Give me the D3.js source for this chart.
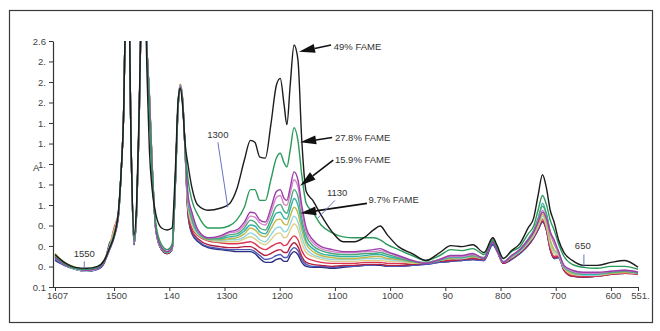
<!DOCTYPE html>
<html>
<head>
<meta charset="utf-8">
<script src="https://cdn.jsdelivr.net/npm/d3@7"></script>
<style>
  body { margin: 0; background: #fff; }
  svg { display: block; font-family: "Liberation Sans", Arial, sans-serif; }
</style>
</head>
<body>
<svg id="chart" width="660" height="331"></svg>
<script>
// wavenumber grid (cm-1), shared by all spectra
const wavenumbers = [
  1607, 1590, 1570, 1550, 1530, 1518, 1508, 1500, 1492, 1487,
  1483, 1479, 1474, 1469, 1464, 1459, 1455, 1450, 1445, 1440,
  1436, 1431, 1424, 1414, 1404, 1395, 1389, 1384, 1380, 1376,
  1371, 1366, 1359, 1348, 1330, 1308, 1292, 1278, 1264, 1253,
  1245, 1236, 1226, 1216, 1206, 1199, 1192, 1187, 1181, 1174,
  1167, 1160, 1152, 1140, 1125, 1105, 1085, 1065, 1045, 1030,
  1018, 1005, 985, 960, 935, 910, 890, 870, 850, 830,
  814, 806, 795, 780, 765, 750, 740, 732, 724, 717,
  710, 703, 695, 685, 670, 650, 625, 600, 575, 551
];

// absorbance (values above 2.6 are cut by the frame)
const fame49 = [
  0.43, 0.35, 0.30, 0.29, 0.31, 0.37, 0.50, 0.62, 0.88, 1.29,
  1.80, 2.90, 3.20, 1.49, 0.63, 0.98, 1.80, 3.00, 3.20, 2.20,
  1.49, 1.09, 0.83, 0.70, 0.68, 0.70, 1.29, 2.00, 2.12, 1.95,
  1.54, 1.34, 1.11, 0.93, 0.88, 0.90, 0.94, 1.09, 1.39, 1.59,
  1.57, 1.42, 1.41, 1.75, 2.15, 2.22, 1.95, 1.75, 2.15, 2.56,
  2.41, 1.59, 1.07, 0.98, 0.83, 0.66, 0.56, 0.56, 0.61, 0.68,
  0.72, 0.63, 0.51, 0.44, 0.37, 0.45, 0.52, 0.51, 0.53, 0.45,
  0.60, 0.52, 0.39, 0.47, 0.54, 0.70, 0.80, 1.03, 1.24, 1.11,
  0.88, 0.76, 0.58, 0.45, 0.37, 0.32, 0.32, 0.35, 0.37, 0.30
];
const fame278 = [
  0.42, 0.34, 0.29, 0.28, 0.30, 0.36, 0.49, 0.62, 0.86, 1.29,
  1.80, 2.90, 3.20, 1.49, 0.58, 0.93, 1.75, 3.00, 3.20, 2.41,
  1.90, 1.24, 0.73, 0.53, 0.48, 0.53, 1.19, 1.95, 2.12, 1.98,
  1.49, 1.19, 0.98, 0.83, 0.70, 0.70, 0.72, 0.78, 0.91, 1.09,
  1.09, 0.98, 0.98, 1.19, 1.41, 1.46, 1.36, 1.32, 1.49, 1.72,
  1.59, 1.24, 0.95, 0.86, 0.73, 0.65, 0.61, 0.60, 0.60, 0.60,
  0.58, 0.53, 0.48, 0.42, 0.37, 0.42, 0.48, 0.47, 0.49, 0.43,
  0.58, 0.50, 0.39, 0.46, 0.51, 0.64, 0.72, 0.88, 1.03, 0.94,
  0.78, 0.68, 0.54, 0.41, 0.33, 0.30, 0.29, 0.31, 0.31, 0.28
];
const fame159 = [
  0.40, 0.33, 0.29, 0.27, 0.29, 0.35, 0.48, 0.60, 0.84, 1.29,
  1.80, 2.90, 3.20, 1.49, 0.56, 0.90, 1.72, 3.00, 3.20, 2.46,
  2.00, 1.29, 0.68, 0.50, 0.46, 0.50, 1.17, 1.95, 2.13, 2.00,
  1.47, 1.03, 0.86, 0.68, 0.60, 0.62, 0.66, 0.68, 0.76, 0.86,
  0.85, 0.78, 0.76, 0.90, 1.07, 1.09, 1.00, 0.98, 1.11, 1.27,
  1.19, 0.93, 0.70, 0.58, 0.51, 0.48, 0.46, 0.46, 0.47, 0.48,
  0.49, 0.46, 0.42, 0.37, 0.34, 0.38, 0.42, 0.42, 0.44, 0.39,
  0.56, 0.47, 0.35, 0.42, 0.48, 0.58, 0.66, 0.76, 0.86, 0.80,
  0.66, 0.58, 0.46, 0.32, 0.27, 0.25, 0.25, 0.26, 0.27, 0.25
];
const sampleP = [
  0.41, 0.33, 0.29, 0.27, 0.29, 0.35, 0.48, 0.61, 0.84, 1.29,
  1.80, 2.90, 3.20, 1.49, 0.56, 0.90, 1.72, 3.00, 3.20, 2.46,
  2.01, 1.30, 0.68, 0.50, 0.46, 0.50, 1.17, 1.95, 2.14, 2.00,
  1.47, 1.01, 0.84, 0.67, 0.60, 0.61, 0.65, 0.66, 0.73, 0.82,
  0.81, 0.75, 0.73, 0.85, 1.01, 1.03, 0.94, 0.93, 1.05, 1.19,
  1.12, 0.87, 0.66, 0.55, 0.49, 0.46, 0.45, 0.45, 0.46, 0.46,
  0.47, 0.45, 0.41, 0.37, 0.34, 0.38, 0.41, 0.41, 0.43, 0.39,
  0.57, 0.47, 0.35, 0.42, 0.48, 0.58, 0.66, 0.77, 0.88, 0.80,
  0.64, 0.55, 0.45, 0.31, 0.26, 0.24, 0.24, 0.26, 0.27, 0.25
];
const sampleG = [
  0.40, 0.33, 0.29, 0.27, 0.30, 0.36, 0.49, 0.62, 0.85, 1.29,
  1.80, 2.90, 3.20, 1.49, 0.55, 0.90, 1.72, 3.00, 3.20, 2.46,
  2.01, 1.31, 0.68, 0.49, 0.45, 0.49, 1.17, 1.95, 2.14, 2.01,
  1.47, 0.99, 0.82, 0.66, 0.59, 0.60, 0.63, 0.64, 0.70, 0.78,
  0.76, 0.70, 0.68, 0.79, 0.92, 0.94, 0.87, 0.85, 0.96, 1.09,
  1.02, 0.80, 0.62, 0.52, 0.47, 0.44, 0.43, 0.43, 0.44, 0.44,
  0.45, 0.43, 0.40, 0.36, 0.35, 0.38, 0.41, 0.41, 0.42, 0.40,
  0.58, 0.48, 0.36, 0.42, 0.48, 0.59, 0.68, 0.80, 0.92, 0.84,
  0.66, 0.55, 0.46, 0.31, 0.26, 0.24, 0.24, 0.25, 0.26, 0.25
];
const sampleT = [
  0.39, 0.33, 0.29, 0.27, 0.30, 0.36, 0.50, 0.64, 0.85, 1.29,
  1.80, 2.90, 3.20, 1.49, 0.55, 0.89, 1.71, 3.00, 3.20, 2.45,
  2.02, 1.31, 0.68, 0.49, 0.45, 0.49, 1.16, 1.96, 2.15, 2.01,
  1.46, 0.97, 0.79, 0.65, 0.59, 0.59, 0.61, 0.62, 0.67, 0.73,
  0.72, 0.66, 0.64, 0.74, 0.85, 0.86, 0.80, 0.79, 0.89, 1.00,
  0.93, 0.74, 0.57, 0.49, 0.44, 0.42, 0.41, 0.41, 0.42, 0.43,
  0.43, 0.41, 0.39, 0.36, 0.34, 0.37, 0.40, 0.40, 0.42, 0.39,
  0.57, 0.47, 0.35, 0.41, 0.47, 0.57, 0.66, 0.78, 0.95, 0.85,
  0.66, 0.54, 0.45, 0.30, 0.25, 0.23, 0.23, 0.25, 0.26, 0.24
];
const sampleO = [
  0.44, 0.35, 0.30, 0.27, 0.30, 0.37, 0.51, 0.66, 0.86, 1.29,
  1.80, 2.90, 3.20, 1.49, 0.55, 0.89, 1.71, 3.00, 3.20, 2.45,
  2.02, 1.32, 0.68, 0.49, 0.45, 0.49, 1.16, 1.96, 2.15, 2.02,
  1.46, 0.95, 0.77, 0.65, 0.58, 0.58, 0.59, 0.60, 0.64, 0.70,
  0.68, 0.63, 0.61, 0.69, 0.78, 0.79, 0.74, 0.73, 0.82, 0.91,
  0.85, 0.68, 0.54, 0.46, 0.42, 0.40, 0.39, 0.39, 0.40, 0.41,
  0.41, 0.39, 0.38, 0.35, 0.34, 0.37, 0.39, 0.40, 0.41, 0.39,
  0.58, 0.48, 0.35, 0.41, 0.47, 0.56, 0.64, 0.74, 0.84, 0.76,
  0.58, 0.48, 0.44, 0.30, 0.24, 0.23, 0.23, 0.24, 0.25, 0.24
];
const sampleC = [
  0.40, 0.33, 0.28, 0.26, 0.29, 0.36, 0.50, 0.65, 0.85, 1.29,
  1.80, 2.90, 3.20, 1.49, 0.55, 0.89, 1.71, 3.00, 3.20, 2.45,
  2.02, 1.32, 0.68, 0.49, 0.45, 0.49, 1.16, 1.96, 2.15, 2.02,
  1.46, 0.93, 0.75, 0.64, 0.58, 0.57, 0.58, 0.58, 0.61, 0.65,
  0.63, 0.58, 0.56, 0.63, 0.70, 0.71, 0.66, 0.67, 0.74, 0.82,
  0.76, 0.61, 0.49, 0.43, 0.40, 0.38, 0.38, 0.38, 0.39, 0.39,
  0.39, 0.38, 0.37, 0.35, 0.35, 0.37, 0.39, 0.39, 0.41, 0.39,
  0.58, 0.48, 0.35, 0.41, 0.46, 0.55, 0.63, 0.72, 0.82, 0.74,
  0.56, 0.46, 0.43, 0.29, 0.24, 0.22, 0.22, 0.24, 0.25, 0.24
];
const sampleY = [
  0.42, 0.34, 0.29, 0.27, 0.30, 0.37, 0.52, 0.68, 0.86, 1.29,
  1.80, 2.90, 3.20, 1.49, 0.55, 0.89, 1.71, 3.00, 3.20, 2.45,
  2.02, 1.32, 0.68, 0.49, 0.45, 0.49, 1.16, 1.96, 2.15, 2.02,
  1.46, 0.91, 0.73, 0.63, 0.58, 0.56, 0.56, 0.56, 0.59, 0.61,
  0.59, 0.55, 0.53, 0.58, 0.64, 0.65, 0.60, 0.61, 0.68, 0.74,
  0.69, 0.55, 0.45, 0.41, 0.38, 0.36, 0.36, 0.36, 0.37, 0.37,
  0.37, 0.36, 0.36, 0.34, 0.35, 0.37, 0.39, 0.39, 0.41, 0.39,
  0.59, 0.48, 0.35, 0.40, 0.46, 0.55, 0.62, 0.71, 0.80, 0.72,
  0.53, 0.44, 0.42, 0.29, 0.23, 0.22, 0.22, 0.24, 0.25, 0.24
];
const sampleR = [
  0.41, 0.34, 0.29, 0.27, 0.30, 0.37, 0.52, 0.70, 0.86, 1.29,
  1.80, 2.90, 3.20, 1.49, 0.55, 0.89, 1.71, 3.00, 3.20, 2.45,
  2.02, 1.32, 0.68, 0.49, 0.45, 0.49, 1.16, 1.96, 2.16, 2.02,
  1.46, 0.88, 0.70, 0.62, 0.57, 0.55, 0.54, 0.54, 0.55, 0.56,
  0.54, 0.50, 0.48, 0.51, 0.54, 0.55, 0.52, 0.53, 0.58, 0.62,
  0.58, 0.47, 0.40, 0.37, 0.35, 0.34, 0.34, 0.34, 0.35, 0.35,
  0.35, 0.34, 0.34, 0.34, 0.35, 0.37, 0.38, 0.39, 0.40, 0.39,
  0.60, 0.48, 0.35, 0.40, 0.46, 0.54, 0.62, 0.70, 0.79, 0.70,
  0.50, 0.41, 0.42, 0.28, 0.22, 0.21, 0.21, 0.23, 0.24, 0.23
];
const sampleK = [
  0.39, 0.33, 0.28, 0.26, 0.29, 0.35, 0.50, 0.64, 0.84, 1.29,
  1.80, 2.90, 3.20, 1.49, 0.54, 0.88, 1.70, 3.00, 3.20, 2.46,
  2.04, 1.33, 0.67, 0.48, 0.44, 0.48, 1.15, 1.94, 2.14, 2.01,
  1.45, 0.86, 0.67, 0.59, 0.53, 0.51, 0.50, 0.50, 0.51, 0.51,
  0.49, 0.45, 0.42, 0.44, 0.47, 0.48, 0.45, 0.45, 0.51, 0.55,
  0.51, 0.41, 0.35, 0.33, 0.32, 0.31, 0.32, 0.32, 0.33, 0.33,
  0.33, 0.32, 0.32, 0.33, 0.34, 0.36, 0.37, 0.38, 0.39, 0.38,
  0.56, 0.47, 0.34, 0.39, 0.45, 0.53, 0.61, 0.69, 0.77, 0.69,
  0.49, 0.40, 0.41, 0.27, 0.21, 0.20, 0.21, 0.23, 0.24, 0.23
];
const sampleB = [
  0.38, 0.32, 0.28, 0.26, 0.28, 0.35, 0.53, 0.63, 0.83, 1.29,
  1.80, 2.90, 3.20, 1.49, 0.53, 0.88, 1.70, 3.00, 3.20, 2.46,
  2.05, 1.34, 0.66, 0.48, 0.44, 0.48, 1.14, 1.93, 2.13, 2.00,
  1.44, 0.84, 0.65, 0.57, 0.51, 0.49, 0.48, 0.48, 0.48, 0.48,
  0.46, 0.42, 0.38, 0.39, 0.42, 0.43, 0.40, 0.40, 0.46, 0.50,
  0.47, 0.38, 0.33, 0.31, 0.31, 0.30, 0.31, 0.31, 0.32, 0.32,
  0.33, 0.31, 0.31, 0.32, 0.33, 0.35, 0.36, 0.37, 0.38, 0.37,
  0.54, 0.46, 0.34, 0.38, 0.44, 0.52, 0.60, 0.68, 0.76, 0.68,
  0.48, 0.39, 0.40, 0.27, 0.21, 0.20, 0.21, 0.23, 0.24, 0.24
];
const sampleN = [
  0.37, 0.32, 0.28, 0.26, 0.28, 0.34, 0.55, 0.62, 0.82, 1.29,
  1.80, 2.90, 3.20, 1.49, 0.53, 0.88, 1.70, 3.00, 3.20, 2.46,
  2.05, 1.34, 0.66, 0.48, 0.44, 0.48, 1.14, 1.92, 2.12, 2.00,
  1.44, 0.83, 0.64, 0.56, 0.50, 0.48, 0.47, 0.46, 0.46, 0.46,
  0.44, 0.39, 0.35, 0.35, 0.38, 0.39, 0.36, 0.36, 0.42, 0.46,
  0.43, 0.35, 0.31, 0.30, 0.30, 0.29, 0.30, 0.31, 0.32, 0.32,
  0.32, 0.31, 0.31, 0.32, 0.33, 0.35, 0.36, 0.37, 0.38, 0.37,
  0.53, 0.46, 0.34, 0.38, 0.44, 0.52, 0.60, 0.68, 0.76, 0.68,
  0.48, 0.39, 0.40, 0.27, 0.21, 0.20, 0.21, 0.23, 0.24, 0.24
];

const xTicks = [1607, 1500, 1400, 1300, 1200, 1100, 1000, 900, 800, 700, 600, 551];
const xTickLabels = ["1607", "1500", "140", "1300", "1200", "1100", "1000", "90", "800", "700", "600", "551."];
const yTicks = [0.1, 0.308, 0.517, 0.725, 0.933, 1.142, 1.35, 1.558, 1.767, 1.975, 2.183, 2.392, 2.6];
const yTickLabels = ["0.1", "0.", "0.", "0.", "1.", "1.", "1.", "1.", "1.", "2.", "2.", "2.", "2.6"];

// drawn bottom first, black on top
const spectra = [
  { values: sampleN, color: "#2b2f7e" },
  { values: sampleB, color: "#4a58b8" },
  { values: sampleK, color: "#b3203f" },
  { values: sampleR, color: "#dc3552" },
  { values: sampleY, color: "#ddd08a" },
  { values: sampleC, color: "#8fd6dc" },
  { values: sampleO, color: "#c2b64a" },
  { values: sampleT, color: "#2fb3a6" },
  { values: sampleG, color: "#4aa97c" },
  { values: sampleP, color: "#d684c8" },
  { values: fame159, color: "#9b3ea9" },
  { values: fame278, color: "#2a9a5a" },
  { values: fame49, color: "#1c1c1c" }
];

// arrows pointing to the bands, text at the tail
const fameNotes = [
  { label: "49% FAME", tip: [1165, 2.49], tail: [1107, 2.56], text: [1102, 2.51] },
  { label: "27.8% FAME", tip: [1163, 1.57], tail: [1105, 1.62], text: [1100, 1.58] },
  { label: "15.9% FAME", tip: [1163, 1.13], tail: [1103, 1.39], text: [1100, 1.36] },
  { label: "9.7% FAME", tip: [1163, 0.85], tail: [1042, 0.95], text: [1039, 0.95] }
];
// thin blue markers with wavenumber labels
const bandMarks = [
  { label: "1300", from: [1312, 1.57], to: [1294, 0.91], text: [1312, 1.61] },
  { label: "1130", from: [1100, 0.98], to: [1131, 0.80], text: [1096, 1.02] },
  { label: "1550", from: [1554, 0.36], to: [1554, 0.29], text: [1554, 0.40] },
  { label: "650", from: [649, 0.43], to: [649, 0.30], text: [651, 0.49] }
];

spectra.forEach(s => {
  if (s.values.length !== wavenumbers.length) throw new Error("length mismatch " + s.color + " " + s.values.length);
});

const svg = d3.select("#chart");
const x = d3.scaleLinear().domain([1607, 551]).range([55, 638]);
const y = d3.scaleLinear().domain([0.1, 2.6]).range([287, 41]);

svg.append("rect").attr("width", 660).attr("height", 331).attr("fill", "#fff");
svg.append("rect")
  .attr("x", 9.5).attr("y", 10.5).attr("width", 643).attr("height", 312)
  .attr("fill", "none").attr("stroke", "#3a3a3a").attr("stroke-width", 1.2);

svg.append("clipPath").attr("id", "plot-clip")
  .append("rect").attr("x", 53).attr("y", 41).attr("width", 590).attr("height", 250);

const line = d3.line()
  .x((d, i) => x(wavenumbers[i]))
  .y(d => y(d))
  .curve(d3.curveMonotoneX);

svg.append("g").attr("clip-path", "url(#plot-clip)")
  .selectAll("path")
  .data(spectra)
  .enter()
  .append("path")
  .attr("d", d => line(d.values))
  .attr("fill", "none")
  .attr("stroke", d => d.color)
  .attr("stroke-width", 1.4)
  .attr("stroke-linejoin", "round");

// axes
const xAxis = svg.append("g")
  .attr("transform", "translate(0,287)")
  .call(d3.axisBottom(x).tickValues(xTicks).tickFormat((d, i) => xTickLabels[i]).tickSize(4).tickSizeOuter(0));
xAxis.select(".domain").remove();
xAxis.selectAll("text").attr("dx", 2).attr("dy", "0.55em");

svg.append("line").attr("x1", 53).attr("x2", 638).attr("y1", 287.5).attr("y2", 287.5)
  .attr("stroke", "#333").attr("stroke-width", 1.2);

const yAxis = svg.append("g")
  .attr("transform", "translate(53,0)")
  .call(d3.axisLeft(y).tickValues(yTicks).tickFormat((d, i) => yTickLabels[i]).tickSize(4).tickSizeOuter(0));
yAxis.select(".domain").attr("stroke-width", 1.2);

svg.selectAll(".tick text").attr("font-size", 9.5).attr("fill", "#444")
  .attr("font-family", "'Liberation Sans', Arial, sans-serif");
svg.selectAll(".tick line, .domain").attr("stroke", "#333");

svg.append("text").attr("x", 33).attr("y", 171).attr("font-size", 9.5).attr("fill", "#333").text("A");

// annotations
const notes = svg.append("g");
fameNotes.forEach(n => {
  const tx = x(n.tip[0]), ty = y(n.tip[1]);
  const sx = x(n.tail[0]), sy = y(n.tail[1]);
  const len = Math.hypot(tx - sx, ty - sy);
  const ux = (tx - sx) / len, uy = (ty - sy) / len;
  const bx = tx - ux * 16, by = ty - uy * 16;
  notes.append("line").attr("x1", sx).attr("y1", sy).attr("x2", bx).attr("y2", by)
    .attr("stroke", "#111").attr("stroke-width", 1.6);
  notes.append("polygon")
    .attr("points", [[tx, ty], [bx - uy * 4.5, by + ux * 4.5], [bx + uy * 4.5, by - ux * 4.5]].join(" "))
    .attr("fill", "#111");
  notes.append("text").attr("x", x(n.text[0])).attr("y", y(n.text[1]))
    .attr("font-size", 9.5).attr("fill", "#333").text(n.label);
});

bandMarks.forEach(b => {
  notes.append("line")
    .attr("x1", x(b.from[0])).attr("y1", y(b.from[1]))
    .attr("x2", x(b.to[0])).attr("y2", y(b.to[1]))
    .attr("stroke", "#6a72bd").attr("stroke-width", 1);
  notes.append("text").attr("x", x(b.text[0])).attr("y", y(b.text[1]))
    .attr("text-anchor", "middle").attr("font-size", 9.5).attr("fill", "#333").text(b.label);
});
</script>
</body>
</html>
